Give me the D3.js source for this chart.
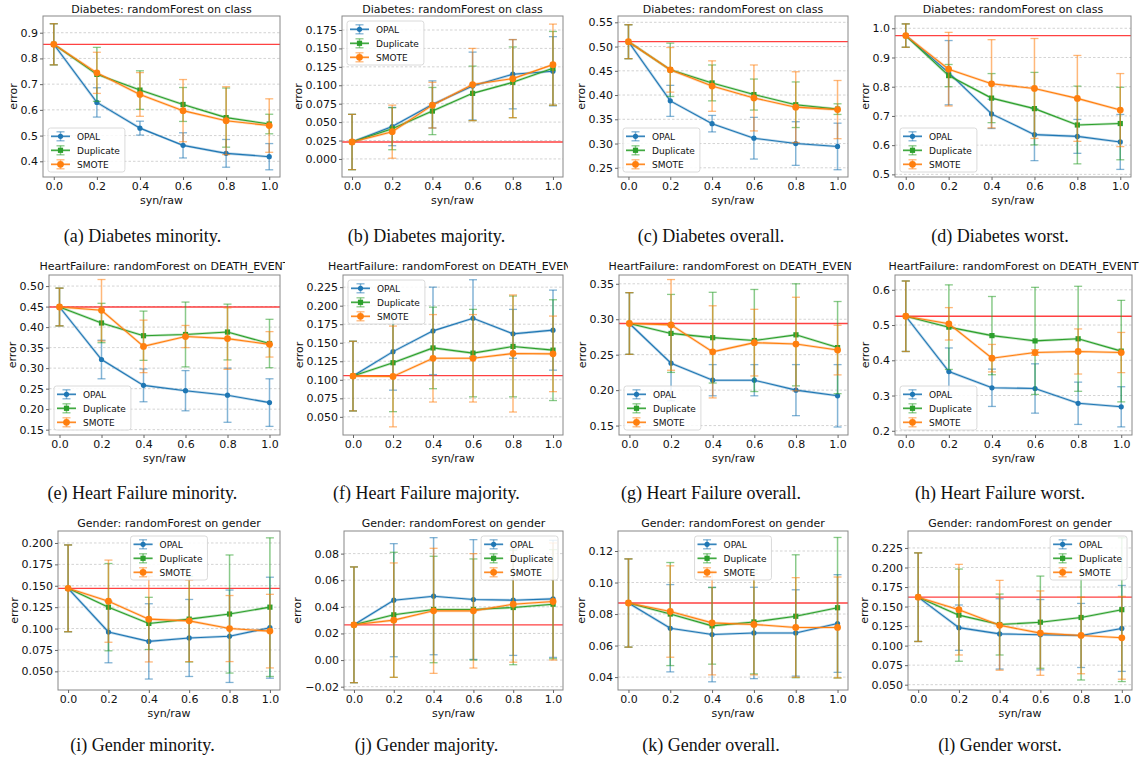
<!DOCTYPE html>
<html>
<head>
<meta charset="utf-8">
<script src="https://cdn.jsdelivr.net/npm/d3@7"></script>
<style>
  body { margin: 0; background: #fff; }
  text { font-family: "DejaVu Sans", sans-serif; fill: #111; }
  .caption { font-family: "Liberation Serif", serif; font-size: 18px; }
</style>
</head>
<body>
<svg id="fig" width="1145" height="767"></svg>
<script>
// ---- data, one entry per panel (a..l) ----
var xVals = [0, 0.2, 0.4, 0.6, 0.8, 1.0];
var seriesNames = ["OPAL", "Duplicate", "SMOTE"];

var titles = [
  "Diabetes: randomForest on class", "Diabetes: randomForest on class",
  "Diabetes: randomForest on class", "Diabetes: randomForest on class",
  "HeartFailure: randomForest on DEATH_EVENT", "HeartFailure: randomForest on DEATH_EVENT",
  "HeartFailure: randomForest on DEATH_EVENT", "HeartFailure: randomForest on DEATH_EVENT",
  "Gender: randomForest on gender", "Gender: randomForest on gender",
  "Gender: randomForest on gender", "Gender: randomForest on gender"
];
var captions = [
  "(a) Diabetes minority.", "(b) Diabetes majority.", "(c) Diabetes overall.", "(d) Diabetes worst.",
  "(e) Heart Failure minority.", "(f) Heart Failure majority.", "(g) Heart Failure overall.", "(h) Heart Failure worst.",
  "(i) Gender minority.", "(j) Gender majority.", "(k) Gender overall.", "(l) Gender worst."
];
var baselines = [0.855, 0.023, 0.510, 0.975, 0.449, 0.1055, 0.294, 0.525, 0.147, 0.0265, 0.087, 0.162];

var yDomains = [
  [0.339, 0.965], [-0.0245, 0.194], [0.231, 0.563], [0.491, 1.042],
  [0.137, 0.527], [0.0255, 0.2414], [0.1367, 0.3624], [0.188, 0.642],
  [0.0282, 0.214], [-0.0225, 0.097], [0.0318, 0.1327], [0.0432, 0.2467]
];
var yTicks = [
  [0.4, 0.5, 0.6, 0.7, 0.8, 0.9],
  [0, 0.025, 0.05, 0.075, 0.1, 0.125, 0.15, 0.175],
  [0.25, 0.3, 0.35, 0.4, 0.45, 0.5, 0.55],
  [0.5, 0.6, 0.7, 0.8, 0.9, 1.0],
  [0.15, 0.2, 0.25, 0.3, 0.35, 0.4, 0.45, 0.5],
  [0.05, 0.075, 0.1, 0.125, 0.15, 0.175, 0.2, 0.225],
  [0.15, 0.2, 0.25, 0.3, 0.35],
  [0.2, 0.3, 0.4, 0.5, 0.6],
  [0.05, 0.075, 0.1, 0.125, 0.15, 0.175, 0.2],
  [-0.02, 0, 0.02, 0.04, 0.06, 0.08],
  [0.04, 0.06, 0.08, 0.1, 0.12],
  [0.05, 0.075, 0.1, 0.125, 0.15, 0.175, 0.2, 0.225]
];
var yFormats = [".1f", ".3f", ".2f", ".1f", ".2f", ".3f", ".2f", ".1f", ".3f", ".2f", ".2f", ".3f"];
var legendLoc = ["lower left", "upper left", "lower left", "lower left",
                 "lower left", "upper left", "lower left", "lower left",
                 "upper center", "upper right", "upper center", "upper right"];

var opalMean = [
  [0.855, 0.629, 0.529, 0.462, 0.431, 0.418],
  [0.023, 0.044, 0.074, 0.099, 0.115, 0.119],
  [0.510, 0.388, 0.341, 0.311, 0.300, 0.294],
  [0.975, 0.848, 0.707, 0.636, 0.630, 0.611],
  [0.449, 0.321, 0.258, 0.245, 0.234, 0.216],
  [0.105, 0.138, 0.166, 0.183, 0.162, 0.167],
  [0.294, 0.238, 0.214, 0.214, 0.200, 0.192],
  [0.525, 0.368, 0.322, 0.320, 0.278, 0.268],
  [0.147, 0.096, 0.085, 0.089, 0.091, 0.101],
  [0.0265, 0.045, 0.048, 0.0455, 0.045, 0.046],
  [0.087, 0.071, 0.067, 0.068, 0.068, 0.074],
  [0.162, 0.123, 0.115, 0.114, 0.113, 0.122]
];
var opalErr = [
  [0.08, 0.057, 0.027, 0.049, 0.054, 0.051],
  [0.0375, 0.026, 0.032, 0.046, 0.047, 0.047],
  [0.035, 0.032, 0.017, 0.043, 0.045, 0.048],
  [0.04, 0.11, 0.05, 0.089, 0.058, 0.094],
  [0.046, 0.047, 0.04, 0.049, 0.066, 0.058],
  [0.047, 0.052, 0.059, 0.052, 0.033, 0.054],
  [0.0435, 0.053, 0.022, 0.022, 0.036, 0.044],
  [0.1, 0.067, 0.053, 0.07, 0.06, 0.057],
  [0.0507, 0.036, 0.044, 0.045, 0.054, 0.059],
  [0.0435, 0.0425, 0.044, 0.045, 0.0415, 0.044],
  [0.028, 0.0277, 0.030, 0.029, 0.0274, 0.031],
  [0.0567, 0.029, 0.045, 0.045, 0.041, 0.055]
];
var dupMean = [
  [0.855, 0.738, 0.677, 0.621, 0.570, 0.545],
  [0.023, 0.041, 0.065, 0.089, 0.104, 0.123],
  [0.510, 0.452, 0.425, 0.401, 0.380, 0.371],
  [0.975, 0.838, 0.761, 0.725, 0.669, 0.674],
  [0.449, 0.410, 0.379, 0.382, 0.388, 0.360],
  [0.105, 0.123, 0.143, 0.136, 0.145, 0.140],
  [0.294, 0.280, 0.274, 0.270, 0.278, 0.260],
  [0.525, 0.494, 0.470, 0.455, 0.461, 0.426],
  [0.147, 0.125, 0.106, 0.111, 0.117, 0.125],
  [0.0265, 0.034, 0.038, 0.038, 0.0395, 0.042],
  [0.087, 0.080, 0.0725, 0.075, 0.0786, 0.084],
  [0.162, 0.139, 0.127, 0.130, 0.136, 0.146]
];
var dupErr = [
  [0.08, 0.105, 0.075, 0.066, 0.115, 0.038],
  [0.0375, 0.0285, 0.032, 0.037, 0.048, 0.05],
  [0.035, 0.055, 0.037, 0.032, 0.047, 0.011],
  [0.04, 0.038, 0.084, 0.124, 0.133, 0.124],
  [0.046, 0.048, 0.06, 0.079, 0.068, 0.059],
  [0.047, 0.066, 0.055, 0.059, 0.068, 0.068],
  [0.0435, 0.055, 0.064, 0.072, 0.072, 0.065],
  [0.1, 0.12, 0.111, 0.152, 0.149, 0.144],
  [0.0507, 0.051, 0.0305, 0.05, 0.069, 0.081],
  [0.0435, 0.047, 0.04, 0.038, 0.043, 0.041],
  [0.028, 0.0327, 0.0243, 0.033, 0.039, 0.0446],
  [0.0567, 0.059, 0.039, 0.059, 0.08, 0.092]
];
var smoteMean = [
  [0.855, 0.744, 0.660, 0.597, 0.558, 0.539],
  [0.023, 0.037, 0.073, 0.101, 0.109, 0.128],
  [0.510, 0.452, 0.4185, 0.394, 0.375, 0.370],
  [0.975, 0.860, 0.810, 0.794, 0.760, 0.720],
  [0.449, 0.441, 0.353, 0.377, 0.372, 0.358],
  [0.105, 0.1045, 0.129, 0.129, 0.1355, 0.135],
  [0.294, 0.292, 0.254, 0.267, 0.265, 0.2565],
  [0.525, 0.5035, 0.406, 0.422, 0.425, 0.422],
  [0.147, 0.132, 0.111, 0.109, 0.100, 0.097],
  [0.0265, 0.030, 0.037, 0.037, 0.042, 0.044],
  [0.087, 0.0816, 0.0744, 0.0734, 0.0715, 0.0715],
  [0.162, 0.146, 0.126, 0.116, 0.113, 0.110]
];
var smoteErr = [
  [0.08, 0.08, 0.085, 0.121, 0.132, 0.104],
  [0.0375, 0.036, 0.031, 0.049, 0.053, 0.055],
  [0.035, 0.046, 0.052, 0.068, 0.073, 0.06],
  [0.04, 0.126, 0.151, 0.171, 0.147, 0.125],
  [0.046, 0.075, 0.064, 0.027, 0.075, 0.031],
  [0.047, 0.068, 0.059, 0.059, 0.079, 0.051],
  [0.0435, 0.064, 0.065, 0.047, 0.066, 0.035],
  [0.1, 0.046, 0.039, 0.008, 0.064, 0.057],
  [0.0507, 0.048, 0.05, 0.0477, 0.0386, 0.043],
  [0.0435, 0.043, 0.047, 0.043, 0.0436, 0.044],
  [0.028, 0.029, 0.033, 0.032, 0.0316, 0.032],
  [0.0567, 0.058, 0.0575, 0.054, 0.049, 0.053]
];

// ---- layout ----
var colBounds = [[0, 285], [285, 568], [570, 852], [855, 1145]];
var rowY = [[16, 177], [275, 435], [531, 690]];
var titleY = [13, 270, 527];
var captionY = [242, 499, 751];
var boxX = [
  [43, 280], [342, 563], [618, 848], [895, 1131],
  [49, 280], [343, 563], [619, 848], [895, 1132],
  [58, 280], [344, 563], [618, 848], [908, 1132]
];

var series = [
  { mean: opalMean, err: opalErr, color: "#1f77b4", shape: "circle", r: 2.6 },
  { mean: dupMean, err: dupErr, color: "#2ca02c", shape: "square", r: 2.6 },
  { mean: smoteMean, err: smoteErr, color: "#ff7f0e", shape: "circle", r: 3.4 }
];

var svg = d3.select("#fig");
var defs = svg.append("defs");
colBounds.forEach(function (b, c) {
  defs.append("clipPath").attr("id", "col" + c)
    .append("rect").attr("x", b[0]).attr("y", 0).attr("width", b[1] - b[0]).attr("height", 767);
});

function marker(g, s, cx, cy) {
  if (s.shape === "square") {
    g.append("rect").attr("x", cx - s.r).attr("y", cy - s.r)
      .attr("width", 2 * s.r).attr("height", 2 * s.r).style("fill", s.color);
  } else {
    g.append("circle").attr("cx", cx).attr("cy", cy).attr("r", s.r).style("fill", s.color);
  }
}

for (var i = 0; i < 12; i++) {
  var row = Math.floor(i / 4), col = i % 4;
  var x0 = boxX[i][0], x1 = boxX[i][1];
  var y0 = rowY[row][0], y1 = rowY[row][1];

  var x = d3.scaleLinear().domain([-0.05, 1.05]).range([x0, x1]);
  var y = d3.scaleLinear().domain(yDomains[i]).range([y1, y0]);
  var g = svg.append("g");

  // horizontal grid
  g.selectAll(".grid").data(yTicks[i]).enter().append("line")
    .attr("x1", x0).attr("x2", x1)
    .attr("y1", function (d) { return y(d); }).attr("y2", function (d) { return y(d); })
    .style("stroke", "#c8c8c8").style("stroke-width", 0.8).style("stroke-dasharray", "2.5,2");

  // reference line
  g.append("line")
    .attr("x1", x0).attr("x2", x1).attr("y1", y(baselines[i])).attr("y2", y(baselines[i]))
    .style("stroke", "#ff2020").style("stroke-width", 1.3).style("opacity", 0.85);

  series.forEach(function (s) {
    var m = s.mean[i], e = s.err[i];
    var sg = g.append("g");
    // error bars
    xVals.forEach(function (xv, k) {
      var cx = x(xv);
      sg.append("line").attr("x1", cx).attr("x2", cx)
        .attr("y1", y(m[k] - e[k])).attr("y2", y(m[k] + e[k]))
        .style("stroke", s.color).style("stroke-width", 1.5).style("opacity", 0.55);
      [m[k] - e[k], m[k] + e[k]].forEach(function (v) {
        sg.append("line").attr("x1", cx - 4).attr("x2", cx + 4)
          .attr("y1", y(v)).attr("y2", y(v))
          .style("stroke", s.color).style("stroke-width", 1.3).style("opacity", 0.55);
      });
    });
    var line = d3.line().x(function (d, k) { return x(xVals[k]); }).y(function (d) { return y(d); });
    sg.append("path").attr("d", line(m)).style("fill", "none")
      .style("stroke", s.color).style("stroke-width", 2.6).style("opacity", 0.3);
    sg.append("path").attr("d", line(m)).style("fill", "none")
      .style("stroke", s.color).style("stroke-width", 1.1);
    m.forEach(function (v, k) { marker(sg, s, x(xVals[k]), y(v)); });
  });

  // frame
  g.append("rect").attr("x", x0).attr("y", y0).attr("width", x1 - x0).attr("height", y1 - y0)
    .style("fill", "none").style("stroke", "#888").style("stroke-width", 1);

  // axes
  var xa = g.append("g").attr("transform", "translate(0," + y1 + ")")
    .call(d3.axisBottom(x).tickValues(xVals).tickFormat(d3.format(".1f")).tickSize(3).tickPadding(2));
  var ya = g.append("g").attr("transform", "translate(" + x0 + ",0)")
    .call(d3.axisLeft(y).tickValues(yTicks[i]).tickFormat(d3.format(yFormats[i])).tickSize(3).tickPadding(2));
  [xa, ya].forEach(function (a) {
    a.select(".domain").remove();
    a.selectAll("line").style("stroke", "#666");
    a.selectAll("text").style("font-size", "11px").style("fill", "#111")
      .style("font-family", "DejaVu Sans, sans-serif");
  });

  var bb = ya.node().getBBox();
  g.append("text")
    .attr("transform", "translate(" + (x0 + bb.x - 4) + "," + ((y0 + y1) / 2) + ") rotate(-90)")
    .attr("text-anchor", "middle").style("font-size", "11px").text("error");
  g.append("text").attr("x", (x0 + x1) / 2).attr("y", y1 + 27)
    .attr("text-anchor", "middle").style("font-size", "11px").text("syn/raw");

  // title (clipped to the subfigure, as in the original)
  g.append("text").attr("x", (x0 + x1) / 2).attr("y", titleY[row])
    .attr("text-anchor", "middle").attr("clip-path", "url(#col" + col + ")")
    .style("font-size", "11px").text(titles[i]);

  // legend
  var lg = g.append("g");
  var box = lg.append("rect").attr("rx", 2.5)
    .style("fill", "#fff").style("fill-opacity", 0.85).style("stroke", "#d0d0d0").style("stroke-width", 0.8);
  var maxW = 0;
  series.forEach(function (s, k) {
    var cy = 8.3 + k * 14;
    lg.append("line").attr("x1", 3).attr("x2", 22).attr("y1", cy).attr("y2", cy)
      .style("stroke", s.color).style("stroke-width", 2.6).style("opacity", 0.3);
    lg.append("line").attr("x1", 3).attr("x2", 22).attr("y1", cy).attr("y2", cy)
      .style("stroke", s.color).style("stroke-width", 1.1);
    lg.append("line").attr("x1", 12.5).attr("x2", 12.5).attr("y1", cy - 4.5).attr("y2", cy + 4.5)
      .style("stroke", s.color).style("stroke-width", 1.5).style("opacity", 0.55);
    [cy - 4.5, cy + 4.5].forEach(function (v) {
      lg.append("line").attr("x1", 8.5).attr("x2", 16.5).attr("y1", v).attr("y2", v)
        .style("stroke", s.color).style("stroke-width", 1.3).style("opacity", 0.55);
    });
    marker(lg, s, 12.5, cy);
    var t = lg.append("text").attr("x", 29).attr("y", cy + 3.2)
      .style("font-size", "9px").text(seriesNames[k]);
    maxW = Math.max(maxW, t.node().getComputedTextLength());
  });
  var lw = 29 + maxW + 5, lh = 44;
  box.attr("width", lw).attr("height", lh);
  var loc = legendLoc[i], lx, ly;
  if (loc.indexOf("left") >= 0) lx = x0 + 5;
  else if (loc.indexOf("right") >= 0) lx = x1 - 5 - lw;
  else lx = (x0 + x1) / 2 - lw / 2;
  ly = loc.indexOf("upper") >= 0 ? y0 + 5 : y1 - 5 - lh;
  lg.attr("transform", "translate(" + lx + "," + ly + ")");

  // caption
  svg.append("text").attr("class", "caption")
    .attr("x", (colBounds[col][0] + colBounds[col][1]) / 2).attr("y", captionY[row])
    .attr("text-anchor", "middle").text(captions[i]);
}
</script>
</body>
</html>
